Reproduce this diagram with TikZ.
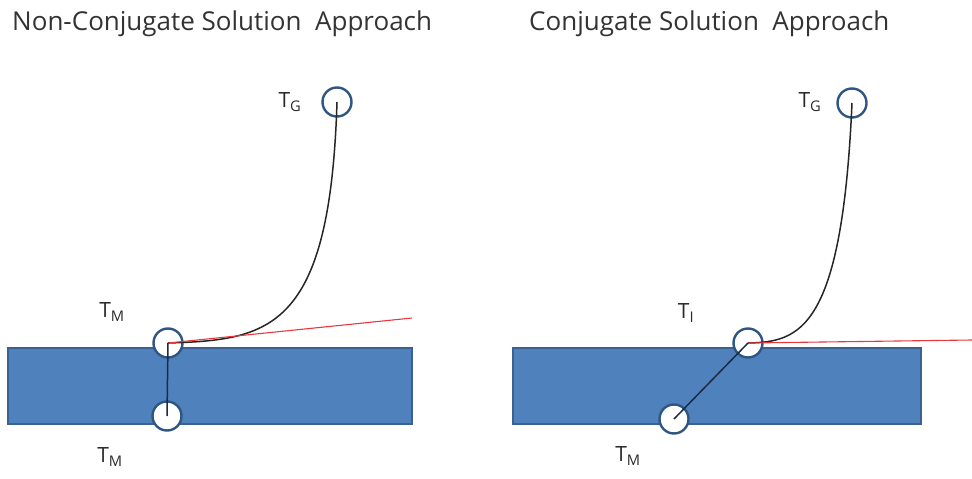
\documentclass[tikz,border=0pt]{standalone}
\usepackage{fontspec}
\setmainfont{Open Sans}
\begin{document}
\begin{tikzpicture}[x=1pt,y=-1pt,
  slab/.style={draw=slabedge,fill=slabfill,line width=1.2pt},
  probe/.style={circle,draw=probeedge,fill=white,line width=2.4pt,minimum size=29pt,inner sep=0pt},
  lbl/.style={text=labelgray,font=\fontsize{21}{24}\selectfont,inner sep=0pt},
  ttl/.style={text=titlegray,font=\fontsize{26}{30}\selectfont,inner sep=0pt,anchor=base west},
  prof/.style={draw=black!85,line width=1.5pt},
  tang/.style={draw=tangred,line width=1.1pt},
  link/.style={draw=linkdark,line width=1.5pt}]
\definecolor{slabfill}{HTML}{4F81BD}
\definecolor{slabedge}{HTML}{3A6190}
\definecolor{probeedge}{HTML}{2F5682}
\definecolor{labelgray}{HTML}{2A2A2A}
\definecolor{titlegray}{HTML}{333333}
\definecolor{tangred}{HTML}{E8383C}
\definecolor{linkdark}{HTML}{1C2B45}
\useasboundingbox (0,0) rectangle (972,479);
% titles
\node[ttl] (t1) at (12,30) {Non-Conjugate Solution\ \ Approach};
\node[ttl] (t2) at (529,30) {Conjugate Solution\ \ Approach};
% slabs
\draw[slab] (8,348) rectangle (412,424);
\draw[slab] (513,348) rectangle (921,424);
% left panel circles
\node[probe] (tg1) at (337,102) {};
\node[probe] (tm1) at (168,343) {};
\node[probe] (tmb1) at (167,416) {};
\coordinate (r1) at (412,318);
% right panel circles
\node[probe] (tg2) at (852,103) {};
\node[probe] (ti2) at (748,343) {};
\node[probe] (tm2) at (674,419) {};
\coordinate (r2) at (972,340);
% connectors
\draw[prof] (tg1.center) .. controls (330,330) and (270,340) .. (tm1.center);
\draw[tang] (tm1.center) -- (r1);
\draw[link] (tm1.center) -- (tmb1.center);
\draw[prof] (tg2.center) .. controls (842,330) and (800,342) .. (ti2.center);
\draw[tang] (ti2.center) -- (r2);
\draw[link] (ti2.center) -- (tm2.center);
% labels
\node[lbl] (l1) at (112,312) {T\textsubscript{M}};
\node[lbl] (l2) at (110,457) {T\textsubscript{M}};
\node[lbl] (l3) at (290,102) {T\textsubscript{G}};
\node[lbl] (l4) at (810,102) {T\textsubscript{G}};
\node[lbl] (l5) at (686,313) {T\textsubscript{I}};
\node[lbl] (l6) at (628,456) {T\textsubscript{M}};
\end{tikzpicture}
\end{document}
